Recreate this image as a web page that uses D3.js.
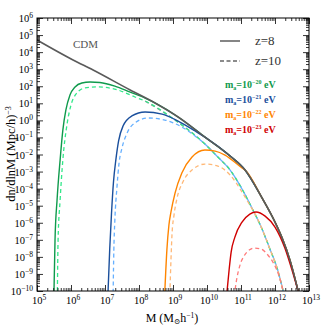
<!DOCTYPE html>
<html lang="en">
<head>
  <meta charset="utf-8">
  <title>Halo mass function</title>
  <script src="https://d3js.org/d3.v7.min.js"></script>
  <style>
    body { margin: 0; background: #fff; }
    text { font-family: "Liberation Serif", "DejaVu Serif", serif; }
  </style>
</head>
<body>
  <script>
    // values as [log10 M, log10 dn/dlnM]
    var cdmZ8 = [[5.00,4.71],[6.06,3.54],[6.65,2.95],[7.74,1.78],[8.47,1.02],[9.15,0.20],[9.94,-0.98],
                 [10.68,-2.09],[11.12,-2.91],[11.62,-4.55],[12.00,-5.96],[12.21,-6.90],[12.44,-8.19],[12.68,-10.00]];
    var cdmZ10 = [[8.18,1.13],[9.06,0.02],[9.94,-1.39],[10.32,-2.15],[10.68,-2.91],[11.03,-4.02],[11.35,-5.25],
                  [11.62,-6.37],[11.85,-7.54],[12.06,-8.65],[12.24,-10.00]];

    var m20z8  = [[5.50,-10],[5.53,-7.01],[5.59,-4.67],[5.68,-2.32],[5.76,-0.57],[5.85,0.61],[5.97,1.49],
                  [6.12,1.96],[6.32,2.19],[6.56,2.25],[6.85,2.22],[7.29,2.01],[7.74,1.66],[8.18,1.31]];
    var m20z10 = [[5.60,-10],[5.62,-7.01],[5.68,-4.67],[5.76,-2.32],[5.88,-0.27],[6.00,0.90],[6.15,1.55],
                  [6.41,1.90],[6.79,1.96],[7.38,1.78],[7.88,1.37]];
    var m21z8  = [[7.09,-10],[7.14,-7.5],[7.19,-5.5],[7.25,-3.6],[7.32,-2.3],[7.40,-1.2],[7.53,-0.33],
                  [7.79,0.26],[8.18,0.49],[8.68,0.37],[9.15,-0.04],[9.65,-0.62]];
    var m21z10 = [[7.24,-10],[7.26,-7.60],[7.29,-5.84],[7.35,-3.96],[7.41,-2.56],[7.50,-1.62],[7.65,-0.74],
                  [7.88,-0.15],[8.26,0.14],[8.76,0.02],[9.26,-0.39],[9.65,-0.92]];
    var m22z8  = [[8.76,-10],[8.82,-7.60],[8.88,-6.13],[8.94,-5.37],[9.06,-4.26],[9.26,-3.09],[9.56,-2.15],
                  [9.94,-1.74],[10.24,-1.80],[10.53,-2.03],[11.03,-2.79]];
    var m22z10 = [[8.91,-10],[8.94,-8.19],[8.97,-6.72],[9.03,-5.55],[9.12,-4.55],[9.29,-3.61],[9.56,-2.91],
                  [9.94,-2.56],[10.32,-2.68],[10.68,-3.20],[11.03,-4.20],[11.26,-4.96]];
    var m23z8  = [[10.59,-10],[10.65,-8.77],[10.71,-7.72],[10.82,-6.84],[11.03,-5.96],[11.26,-5.49],[11.44,-5.37],
                  [11.71,-5.61],[12.00,-6.25],[12.29,-7.48],[12.50,-8.77],[12.68,-10]];
    var m23z10 = [[10.82,-10],[10.88,-9.24],[10.97,-8.48],[11.09,-7.95],[11.24,-7.60],[11.38,-7.48],[11.59,-7.54],
                  [11.79,-7.89],[11.97,-8.42],[12.12,-9.12],[12.24,-10]];

    var massLabels = ["-20", "-21", "-22", "-23"];
    var solidColors  = ["#0f9a4c", "#1a4f9c", "#ff8500", "#d00000"];
    var dashedColors = ["#33e88a", "#66b0ff", "#ffb877", "#ff7a7a"];

    var xTickExp = d3.range(5, 14);   // 10^5 .. 10^13
    var yTickExp = d3.range(-10, 7);  // 10^-10 .. 10^6

    // an FDM curve follows CDM once it has merged with it
    function withTail(own, tail) {
      var last = own[own.length - 1][0];
      return own.concat(tail.filter(function(d) { return d[0] > last + 0.05; }));
    }

    var width = 327, height = 327;
    var pLeft = 37, pRight = 309, pTop = 18, pBottom = 291;

    var svg = d3.select("body").append("svg")
      .attr("width", width)
      .attr("height", height);

    var x = d3.scaleLog().domain([1e5, 1e13]).range([pLeft, pRight]);
    var y = d3.scaleLog().domain([1e-10, 1e6]).range([pBottom, pTop]);

    svg.append("clipPath").attr("id", "plot")
      .append("rect").attr("x", pLeft).attr("y", pTop)
      .attr("width", pRight - pLeft).attr("height", pBottom - pTop);

    var line = d3.line()
      .x(function(d) { return x(Math.pow(10, d[0])); })
      .y(function(d) { return y(Math.pow(10, d[1])); })
      .curve(d3.curveMonotoneX);

    var g = svg.append("g").attr("clip-path", "url(#plot)");

    var dashed = [withTail(m20z10, cdmZ10), withTail(m21z10, cdmZ10), withTail(m22z10, cdmZ10), withTail(m23z10, cdmZ10)];
    var solid  = [withTail(m20z8, cdmZ8), withTail(m21z8, cdmZ8), withTail(m22z8, cdmZ8), withTail(m23z8, cdmZ8)];

    g.append("path").attr("d", line(cdmZ10))
      .attr("fill", "none").attr("stroke", "#999").attr("stroke-width", 1.3)
      .attr("stroke-dasharray", "4,3");

    g.selectAll(".dash").data(dashed).enter().append("path")
      .attr("d", line)
      .attr("fill", "none")
      .attr("stroke", function(d, i) { return dashedColors[i]; })
      .attr("stroke-width", 1.3)
      .attr("stroke-dasharray", "4,3")
      .attr("stroke-dashoffset", function(d, i) { return i * 1.7; });

    g.selectAll(".solid").data(solid).enter().append("path")
      .attr("d", line)
      .attr("fill", "none")
      .attr("stroke", function(d, i) { return solidColors[i]; })
      .attr("stroke-width", 1.4);

    g.append("path").attr("d", line(cdmZ8))
      .attr("fill", "none").attr("stroke", "#5a5a5a").attr("stroke-width", 1.6);

    // ticks on all four sides, pointing in
    var xMinor = [], yMinor = [];
    xTickExp.slice(0, -1).forEach(function(e) { for (var k = 2; k < 10; k++) xMinor.push(k * Math.pow(10, e)); });
    yTickExp.slice(0, -1).forEach(function(e) { for (var k = 2; k < 10; k++) yMinor.push(k * Math.pow(10, e)); });
    var xMajor = xTickExp.map(function(e) { return Math.pow(10, e); });
    var yMajor = yTickExp.map(function(e) { return Math.pow(10, e); });

    function tickAxis(axis, vals, size, tr) {
      var a = svg.append("g").attr("transform", tr)
        .call(axis.tickValues(vals).tickSize(size).tickFormat(""));
      a.select(".domain").remove();
      a.selectAll("line").attr("stroke", "#000").attr("stroke-width", 0.8);
    }
    tickAxis(d3.axisBottom(x), xMajor, -6, "translate(0," + pBottom + ")");
    tickAxis(d3.axisBottom(x), xMinor, -3, "translate(0," + pBottom + ")");
    tickAxis(d3.axisTop(x), xMajor, -6, "translate(0," + pTop + ")");
    tickAxis(d3.axisTop(x), xMinor, -3, "translate(0," + pTop + ")");
    tickAxis(d3.axisLeft(y), yMajor, -6, "translate(" + pLeft + ",0)");
    tickAxis(d3.axisLeft(y), yMinor, -3, "translate(" + pLeft + ",0)");
    tickAxis(d3.axisRight(y), yMajor, -6, "translate(" + pRight + ",0)");
    tickAxis(d3.axisRight(y), yMinor, -3, "translate(" + pRight + ",0)");

    svg.append("rect").attr("x", pLeft).attr("y", pTop)
      .attr("width", pRight - pLeft).attr("height", pBottom - pTop)
      .attr("fill", "none").attr("stroke", "#000").attr("stroke-width", 1);

    function power(sel, e) {
      sel.append("tspan").text("10");
      sel.append("tspan").attr("dy", -4).attr("font-size", 7.5).text(e < 0 ? "\u2212" + (-e) : e);
    }

    svg.selectAll(".xl").data(xTickExp).enter().append("text")
      .attr("x", function(d) { return x(Math.pow(10, d)) + 2; })
      .attr("y", 304)
      .attr("text-anchor", "middle")
      .attr("font-size", 10.5)
      .each(function(d) { power(d3.select(this), d); });

    svg.selectAll(".yl").data(yTickExp).enter().append("text")
      .attr("x", 33)
      .attr("y", function(d) { return y(Math.pow(10, d)) + 4; })
      .attr("text-anchor", "end")
      .attr("font-size", 10.5)
      .each(function(d) { power(d3.select(this), d); });

    // axis titles
    var xt = svg.append("text").attr("x", 172).attr("y", 322)
      .attr("text-anchor", "middle").attr("font-size", 12);
    xt.append("tspan").text("M  (M");
    xt.append("tspan").attr("dy", 2).attr("font-size", 7.5).text("\u2299");
    xt.append("tspan").attr("dy", -2).text("h");
    xt.append("tspan").attr("dy", -4).attr("font-size", 7.5).text("\u22121");
    xt.append("tspan").attr("dy", 4).text(")");

    var yt = svg.append("text")
      .attr("transform", "translate(15,154) rotate(-90)")
      .attr("text-anchor", "middle").attr("font-size", 12.5);
    yt.append("tspan").text("dn/dlnM  (Mpc/h)");
    yt.append("tspan").attr("dy", -4).attr("font-size", 8).text("\u22123");

    svg.append("text").attr("x", 73).attr("y", 48)
      .attr("font-size", 11).attr("fill", "#555").text("CDM");

    // legend
    svg.append("line").attr("x1", 220).attr("x2", 240).attr("y1", 41).attr("y2", 41)
      .attr("stroke", "#666").attr("stroke-width", 1.6);
    svg.append("line").attr("x1", 220).attr("x2", 240).attr("y1", 61).attr("y2", 61)
      .attr("stroke", "#666").attr("stroke-width", 1.3).attr("stroke-dasharray", "4,2.5");
    svg.append("text").attr("x", 255).attr("y", 45).attr("font-size", 13).attr("fill", "#333").text("z=8");
    svg.append("text").attr("x", 255).attr("y", 65).attr("font-size", 13).attr("fill", "#333").text("z=10");

    svg.selectAll(".ml").data(massLabels).enter().append("text")
      .attr("x", 225)
      .attr("y", function(d, i) { return 88 + i * 15; })
      .attr("font-size", 10)
      .attr("font-weight", "bold")
      .attr("fill", function(d, i) { return solidColors[i]; })
      .each(function(d) {
        var t = d3.select(this);
        t.append("tspan").text("m");
        t.append("tspan").attr("dy", 2).attr("font-size", 6).text("a");
        t.append("tspan").attr("dy", -2).text("=10");
        t.append("tspan").attr("dy", -4).attr("font-size", 6).text("\u2212" + d.slice(1));
        t.append("tspan").attr("dy", 4).text("  eV");
      });
  </script>
</body>
</html>
